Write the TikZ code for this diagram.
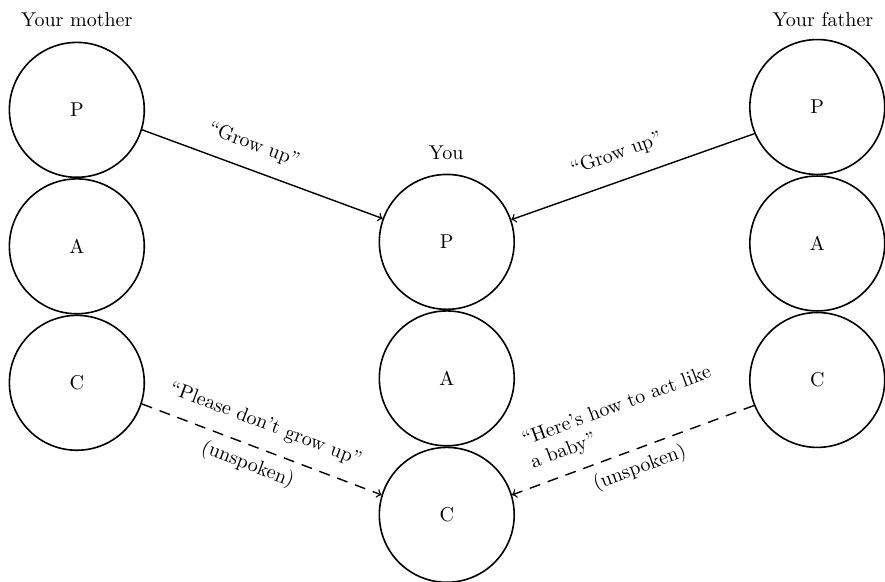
\documentclass[tikz,border=0pt]{standalone}
\usepackage{tikz}
\usetikzlibrary{positioning}
\tikzstyle{ego} = [draw, circle, line width=0.8pt,
    minimum size=2.37cm, inner sep=0pt]
\tikzstyle{msg} = [->, line width=0.7pt]
\tikzstyle{hidden} = [msg, dash pattern=on 5.5pt off 4pt]

\begin{document}
\begin{tikzpicture}
        \useasboundingbox (0, 0) rectangle (15.55, 10.21);

        \node[ego, name=momP] at (1.35, 8.28) {P};
        \node[ego, below=0pt of momP, name=momA] {A};
        \node[ego, below=0pt of momA, name=momC] {C};

        \node[ego, name=youP] at (7.85, 5.96) {P};
        \node[ego, below=0pt of youP, name=youA] {A};
        \node[ego, below=0pt of youA, name=youC] {C};

        \node[ego, name=dadP] at (14.36, 8.33) {P};
        \node[ego, below=0pt of dadP, name=dadA] {A};
        \node[ego, below=0pt of dadA, name=dadC] {C};

        \node[name=mom] at (1.35, 9.86) {Your mother};
        \node[name=dad] at (14.46, 9.86) {Your father};
        \node[name=you] at (7.84, 7.52) {You};

        \draw[msg] (momP.-17) -- node [above=4pt, sloped, pos=0.43] {``Grow up''} (youP.160);
        \draw[msg] (dadP.-157) -- node [above=5pt, sloped, pos=0.53] {``Grow up''} (youP.19);
        \draw[hidden] (momC.-18) -- node [above=4pt, sloped, pos=0.48] {``Please don't grow up''}
            node [below=1pt, sloped, pos=0.47] {(unspoken)} (youC.163);
        \draw[hidden] (dadC.-158) -- node [above=3pt, sloped, pos=0.5, align=left] {``Here's how to act like\\a baby''}
            node [below=1pt, sloped, pos=0.5] {(unspoken)} (youC.17);
    \end{tikzpicture}
\end{document}
